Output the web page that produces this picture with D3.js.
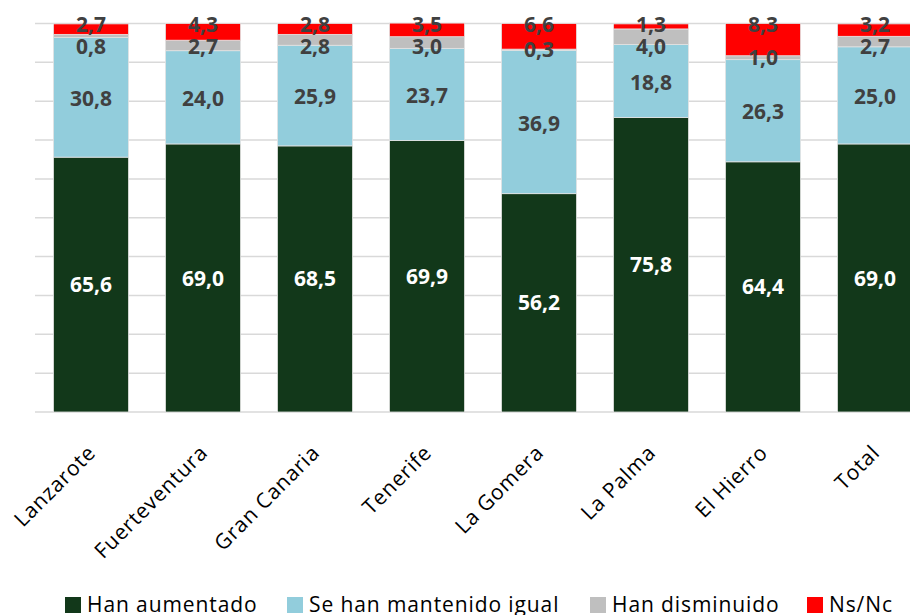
<!DOCTYPE html>
<html>
<head>
<meta charset="utf-8">
<script src="https://cdn.jsdelivr.net/npm/d3@7"></script>
<style>
  body { margin: 0; background: #fff; overflow: hidden; }
  svg { display: block; font-family: "Open Sans", sans-serif; }
</style>
</head>
<body>
<div id="chart"></div>
<script>
const islands = ["Lanzarote", "Fuerteventura", "Gran Canaria", "Tenerife", "La Gomera", "La Palma", "El Hierro", "Total"];
const seriesNames = ["Han aumentado", "Se han mantenido igual", "Han disminuido", "Ns/Nc"];
const aumentado  = [65.6, 69.0, 68.5, 69.9, 56.2, 75.8, 64.4, 69.0];
const igual      = [30.8, 24.0, 25.9, 23.7, 36.9, 18.8, 26.3, 25.0];
const disminuido = [0.8, 2.7, 2.8, 3.0, 0.3, 4.0, 1.0, 2.7];
const nsnc       = [2.7, 4.3, 2.8, 3.5, 6.6, 1.3, 8.3, 3.2];
const gridTicks  = [0, 10, 20, 30, 40, 50, 60, 70, 80, 90, 100];

const width = 910, height = 615;
const colors = ["#12381A", "#92CDDC", "#BFBFBF", "#FF0000"];
const labelColors = ["#ffffff", "#404040", "#404040", "#404040"];

const rows = islands.map((name, i) => ({
  name,
  a: aumentado[i], b: igual[i], c: disminuido[i], d: nsnc[i]
}));
const keys = ["a", "b", "c", "d"];
const stacked = d3.stack().keys(keys)(rows);

const x = d3.scaleBand()
  .domain(islands)
  .range([35, 35 + 112 * islands.length])
  .paddingInner(0.33)
  .paddingOuter(0.165);

const y = d3.scaleLinear().domain([0, 100]).range([412, 23.5]);

const svg = d3.select("#chart").append("svg")
  .attr("width", width)
  .attr("height", height);

// gridlines
svg.append("g")
  .selectAll("line")
  .data(gridTicks)
  .join("line")
  .attr("x1", 35)
  .attr("x2", width)
  .attr("y1", d => y(d))
  .attr("y2", d => y(d))
  .attr("stroke", "#d9d9d9")
  .attr("stroke-width", 1.5);

// bars
svg.append("g")
  .selectAll("g")
  .data(stacked)
  .join("g")
  .attr("fill", (s, i) => colors[i])
  .selectAll("rect")
  .data(s => s)
  .join("rect")
  .attr("x", d => x(d.data.name))
  .attr("width", x.bandwidth())
  .attr("y", d => y(d[1]))
  .attr("height", d => y(d[0]) - y(d[1]))
  .attr("stroke", "#e3e3e3")
  .attr("stroke-width", 0.8);

// data labels: centred in segment; the small top ones are spread apart
const labels = [];
rows.forEach((r, i) => {
  const cx = x(r.name) + x.bandwidth() / 2;
  const pos = keys.map((k, j) => (y(stacked[j][i][0]) + y(stacked[j][i][1])) / 2);
  const redY = y(100) + 0.5;
  const greyY = Math.max(pos[2], redY + 22);
  const ys = [pos[0], pos[1] + 1, greyY, redY];
  keys.forEach((k, j) => {
    labels.push({ x: cx, y: ys[j], v: r[k], j });
  });
});

svg.append("g")
  .selectAll("text")
  .data(labels)
  .join("text")
  .attr("x", d => d.x)
  .attr("y", d => d.y)
  .attr("dy", "0.36em")
  .attr("text-anchor", "middle")
  .attr("font-size", 21)
  .attr("font-weight", 700)
  .attr("fill", d => labelColors[d.j])
  .text(d => d3.format(".1f")(d.v).replace(".", ","));

// category labels
svg.append("g")
  .selectAll("text")
  .data(islands)
  .join("text")
  .attr("transform", d => `translate(${x(d) + x.bandwidth() / 2 + 6},454) rotate(-45)`)
  .attr("text-anchor", "end")
  .attr("font-size", 21)
  .attr("letter-spacing", 0.8)
  .attr("fill", "#000")
  .text(d => d);

// legend
const legendX = [65, 287, 590, 807];
const legend = svg.append("g")
  .selectAll("g")
  .data(seriesNames)
  .join("g")
  .attr("transform", (d, i) => `translate(${legendX[i]},0)`);
legend.append("rect")
  .attr("y", 597)
  .attr("width", 16)
  .attr("height", 16)
  .attr("fill", (d, i) => colors[i]);
legend.append("text")
  .attr("x", 22)
  .attr("y", 612)
  .attr("font-size", 21)
  .attr("letter-spacing", 0.9)
  .attr("fill", "#000")
  .text(d => d);
</script>
</body>
</html>
